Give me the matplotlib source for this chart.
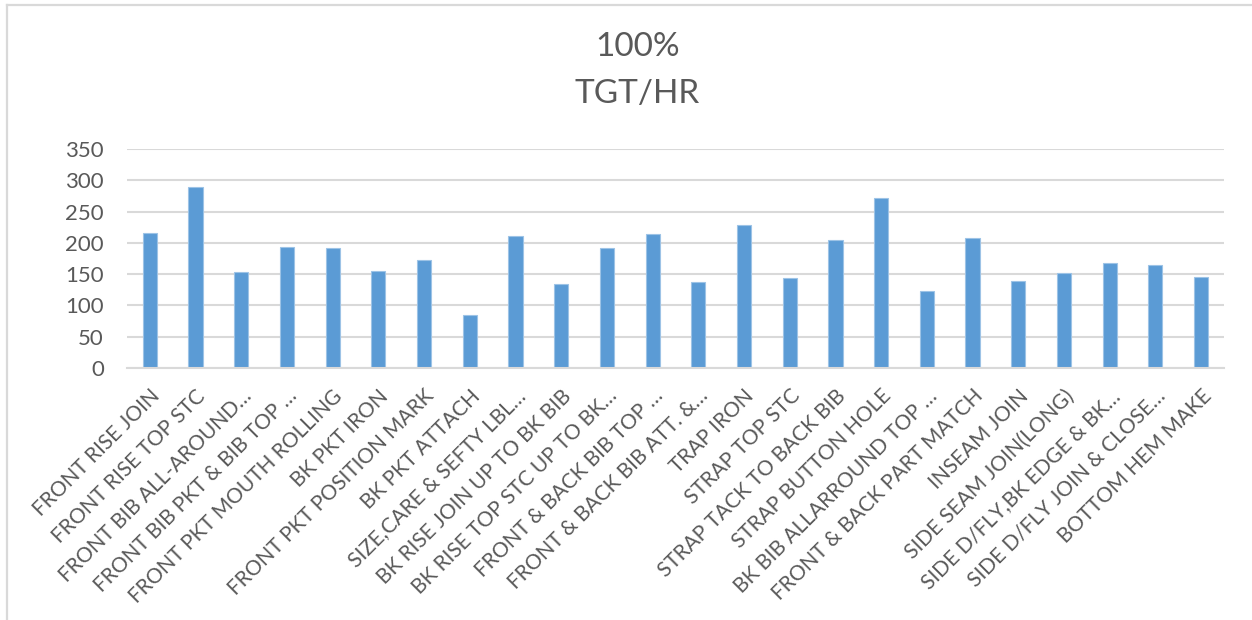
import matplotlib.pyplot as plt
import matplotlib.transforms as mtransforms
from matplotlib.lines import Line2D
import numpy as np

# operations and their target output per hour
operations = [
    "FRONT RISE JOIN",
    "FRONT RISE TOP STC",
    "FRONT BIB ALL-AROUND…",
    "FRONT BIB PKT & BIB TOP …",
    "FRONT PKT MOUTH ROLLING",
    "BK PKT IRON",
    "FRONT PKT POSITION MARK",
    "BK PKT ATTACH",
    "SIZE,CARE & SEFTY LBL…",
    "BK RISE JOIN UP TO BK BIB",
    "BK RISE TOP STC UP TO BK…",
    "FRONT & BACK BIB TOP …",
    "FRONT & BACK BIB ATT. &…",
    "TRAP IRON",
    "STRAP TOP STC",
    "STRAP TACK TO BACK BIB",
    "STRAP BUTTON HOLE",
    "BK BIB ALLARROUND TOP …",
    "FRONT & BACK PART MATCH",
    "INSEAM JOIN",
    "SIDE SEAM JOIN(LONG)",
    "SIDE D/FLY,BK EDGE & BK…",
    "SIDE D/FLY JOIN & CLOSE…",
    "BOTTOM HEM MAKE",
]
tgt_hr = [215, 289, 153, 194, 192, 155, 172, 84, 211, 134, 191, 214,
          138, 229, 143, 204, 272, 123, 207, 139, 152, 167, 164, 145]

yticks = [0, 50, 100, 150, 200, 250, 300, 350]

plt.rcParams['font.family'] = ['Lato', 'DejaVu Sans']
txt_col = '#595959'
grid_col = '#D9D9D9'

fig = plt.figure(figsize=(12.52, 6.20), dpi=100)
ax = fig.add_axes([0.1014, 0.4065, 0.8762, 0.3532])

x = np.arange(len(operations))
ax.bar(x, tgt_hr, width=0.31, color='#5B9BD5', edgecolor='#9DC3E6',
       linewidth=0.8, zorder=3)

ax.set_xlim(-0.5, len(operations) - 0.5)
ax.set_ylim(0, 350)
ax.set_yticks(yticks)
ax.set_yticklabels([str(v) for v in yticks])
ax.yaxis.grid(True, color=grid_col, linewidth=1.5, zorder=0)
ax.set_axisbelow(True)

for s in ['left', 'right', 'top']:
    ax.spines[s].set_visible(False)
ax.spines['bottom'].set_color(grid_col)
ax.spines['bottom'].set_linewidth(1.5)
ax.spines['bottom'].set_zorder(4)

ax.tick_params(axis='y', length=0, pad=16.5, labelsize=16, labelcolor=txt_col)
ax.tick_params(axis='x', length=0, pad=18, labelsize=15, labelcolor=txt_col)
ax.set_xticks(x)
ax.set_xticklabels(operations, rotation=45, ha='right', va='center',
                   rotation_mode='anchor')
# nudge the slanted labels a little to the right
nudge = mtransforms.ScaledTranslation(7 / 100, 0, fig.dpi_scale_trans)
for lbl in ax.get_xticklabels():
    lbl.set_transform(lbl.get_transform() + nudge)

fig.text(0.509, 0.925, "100%", ha='center', va='center', fontsize=24, color=txt_col)
fig.text(0.509, 0.848, "TGT/HR", ha='center', va='center', fontsize=24, color=txt_col)

# chart frame (left and top edges)
fig.add_artist(Line2D([0.0058, 0.0058], [0, 0.992], transform=fig.transFigure,
                      color=grid_col, linewidth=1.6))
fig.add_artist(Line2D([0.0058, 1.0], [0.992, 0.992], transform=fig.transFigure,
                      color=grid_col, linewidth=1.6))

fig.savefig('out.png', dpi=100)
